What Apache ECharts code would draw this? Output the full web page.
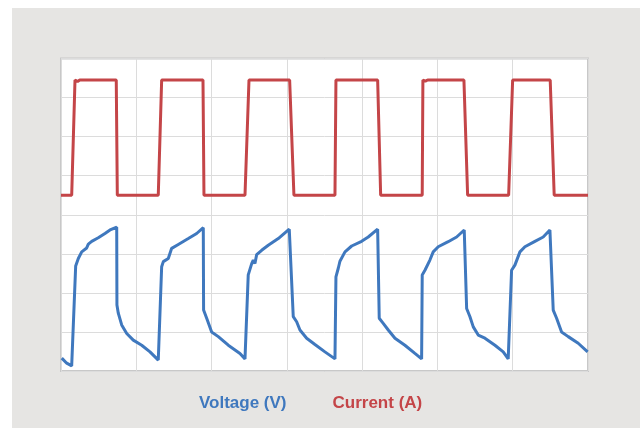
<!DOCTYPE html>
<html><head><meta charset="utf-8">
<script src="https://cdn.jsdelivr.net/npm/echarts@6/dist/echarts.min.js"></script>
<style>
html,body{margin:0;padding:0;background:#fff;}
#c{position:absolute;left:12px;top:8px;width:628px;height:420px;}
</style></head>
<body><div id="c"></div>
<script>
// time in grid divisions
const voltageT = [0.01,0.076,0.142,0.195,0.230,0.275,0.341,0.363,0.408,0.495,0.584,0.651,0.740,0.743,0.761,0.806,0.873,0.960,1.072,1.182,1.292,
 1.337,1.359,1.425,1.448,1.470,1.558,1.691,1.802,1.890,1.894,1.935,2.001,2.089,2.222,2.377,2.444,
 2.487,2.533,2.554,2.576,2.599,2.665,2.753,2.886,3.032,3.085,3.130,3.174,3.263,3.373,3.506,3.639,
 3.652,3.683,3.705,3.772,3.861,3.993,4.081,4.206,4.227,4.280,4.347,4.436,4.568,4.701,4.790,
 4.798,4.834,4.900,4.944,5.011,5.143,5.255,5.356,5.388,5.432,5.476,5.542,5.631,5.764,5.874,5.940,
 5.985,6.029,6.096,6.162,6.295,6.405,6.494,6.538,6.583,6.649,6.737,6.870,6.995];
const voltageV = [0.33,0.20,0.13,2.69,2.88,3.05,3.15,3.25,3.32,3.41,3.52,3.61,3.68,1.69,1.48,1.18,0.96,0.79,0.66,0.49,0.28,
 2.67,2.80,2.88,2.84,3.14,3.24,3.39,3.52,3.67,1.56,1.35,1.00,0.88,0.66,0.45,0.31,
 2.46,2.75,2.84,2.75,2.98,3.09,3.22,3.39,3.63,1.39,1.26,1.05,0.84,0.68,0.49,0.31,
 2.41,2.63,2.81,3.05,3.20,3.32,3.43,3.63,1.35,1.22,1.05,0.84,0.66,0.45,0.31,
 2.46,2.58,2.84,3.05,3.18,3.31,3.43,3.61,1.60,1.39,1.13,0.92,0.84,0.66,0.49,0.31,
 2.58,2.71,3.05,3.18,3.32,3.43,3.61,1.56,1.35,1.00,0.88,0.71,0.49];
const currentT = [0,0.142,0.186,0.22,0.25,0.734,0.748,1.292,1.337,1.886,1.899,2.444,2.497,3.037,3.094,3.639,3.652,4.206,4.246,4.798,4.807,4.84,4.87,5.352,5.401,5.946,5.999,6.498,6.551,7];
const currentA = [0,0,2.95,2.91,2.95,2.95,0,0,2.95,2.95,0,0,2.95,2.95,0,0,2.95,2.95,0,0,2.95,2.92,2.95,2.95,0,0,2.95,2.95,0,0];
const seriesNames = ['Voltage (V)','Current (A)'];
const colors = ['#3f78be','#c44548'];

const zip = (a,b)=>a.map((t,i)=>[t,b[i]]);
const chart = echarts.init(document.getElementById('c'));
chart.setOption({
  animation:false,
  backgroundColor:'#e6e5e3',
  grid:{left:49,top:50.5,width:527,height:312.5,show:true,backgroundColor:'#ffffff',borderColor:'#c8c8c8',borderWidth:2},
  legend:{
    top:382,left:177,icon:'none',itemWidth:0,itemGap:41,
    textStyle:{fontFamily:'Liberation Sans, Arial',fontWeight:'bold',fontSize:17},
    data:[{name:seriesNames[0],textStyle:{color:colors[0]}},{name:seriesNames[1],textStyle:{color:colors[1]}}]
  },
  xAxis:{type:'value',min:0,max:7,interval:1,axisLabel:{show:false},axisTick:{show:false},axisLine:{show:false},
    splitLine:{show:true,lineStyle:{color:'#dcdcdc',width:1}}},
  yAxis:[
    {type:'value',min:0,max:8,interval:1,axisLabel:{show:false},axisTick:{show:false},axisLine:{show:false},
     splitLine:{show:true,lineStyle:{color:'#dcdcdc',width:1}}},
    {type:'value',min:-4.5,max:3.5,interval:0.5,show:false,splitLine:{show:false}}
  ],
  series:[
    {name:seriesNames[0],type:'line',yAxisIndex:0,data:zip(voltageT,voltageV),showSymbol:false,symbol:'none',
     lineStyle:{color:colors[0],width:3},itemStyle:{color:colors[0]}},
    {name:seriesNames[1],type:'line',yAxisIndex:1,data:zip(currentT,currentA),showSymbol:false,symbol:'none',
     lineStyle:{color:colors[1],width:3},itemStyle:{color:colors[1]}}
  ]
});
</script></body></html>
